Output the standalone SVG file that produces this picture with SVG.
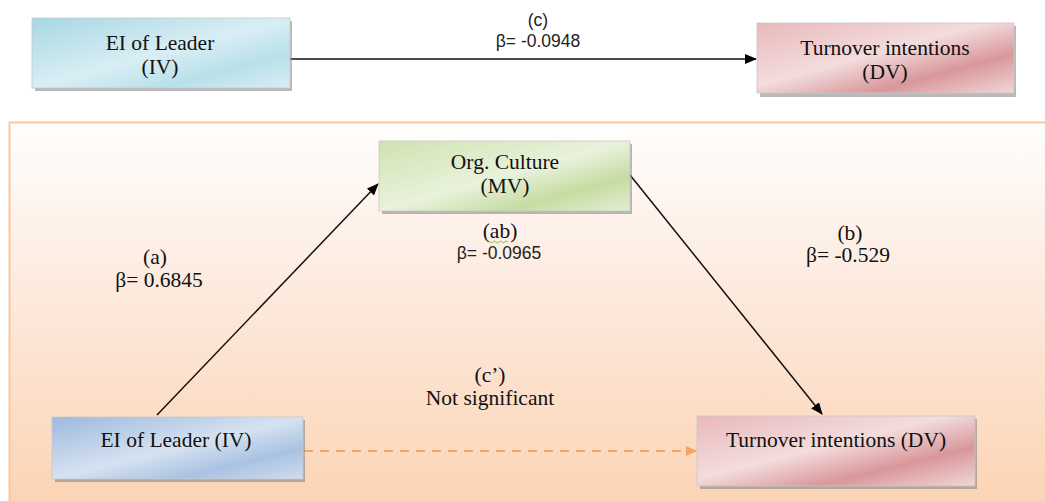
<svg xmlns="http://www.w3.org/2000/svg" width="1045" height="501" viewBox="0 0 1045 501">
<defs>
<linearGradient id="panel" x1="0" y1="0" x2="0" y2="1">
<stop offset="0" stop-color="#fffefd"/><stop offset="0.45" stop-color="#fde9dc"/><stop offset="1" stop-color="#fbd3b3"/>
</linearGradient>
<linearGradient id="gBlue" x1="0" y1="0" x2="1" y2="1">
<stop offset="0" stop-color="#a7d7e3"/><stop offset="0.5" stop-color="#d9eef4"/><stop offset="0.75" stop-color="#b9e0ea"/><stop offset="1" stop-color="#d8edf3"/>
</linearGradient>
<linearGradient id="gPink" x1="0" y1="0" x2="1" y2="1">
<stop offset="0" stop-color="#e9b9bb"/><stop offset="0.45" stop-color="#f3dcdd"/><stop offset="0.72" stop-color="#d9979a"/><stop offset="1" stop-color="#f1d7d8"/>
</linearGradient>
<linearGradient id="gGreen" x1="0" y1="0" x2="1" y2="1">
<stop offset="0" stop-color="#cfe3b0"/><stop offset="0.5" stop-color="#e9f2dc"/><stop offset="0.75" stop-color="#c6dca2"/><stop offset="1" stop-color="#e3eed3"/>
</linearGradient>
<linearGradient id="gSteel" x1="0" y1="0" x2="1" y2="1">
<stop offset="0" stop-color="#9db9dd"/><stop offset="0.5" stop-color="#d6e2f1"/><stop offset="0.75" stop-color="#a9c2e2"/><stop offset="1" stop-color="#d0ddef"/>
</linearGradient>
<marker id="ah" markerWidth="12" markerHeight="10" refX="11" refY="5" orient="auto" markerUnits="userSpaceOnUse" viewBox="0 0 12 10">
<path d="M0,0 L12,5 L0,10 z" fill="#000"/>
</marker>
<marker id="ahO" markerWidth="11" markerHeight="10" refX="10" refY="5" orient="auto" markerUnits="userSpaceOnUse" viewBox="0 0 11 10">
<path d="M0,0 L11,5 L0,10 z" fill="#f4a460"/>
</marker>
</defs>
<style>
.t{font-family:"Liberation Serif","Times New Roman",serif;font-size:21.5px;fill:#111;text-anchor:middle}
.s{font-family:"Liberation Sans",Arial,sans-serif;font-size:17.5px;fill:#222;text-anchor:middle}
.shadow{fill:#7f7f7f;opacity:0.55}
.box{stroke:#c8c8c8;stroke-width:0.8}
.edge{stroke:#111;stroke-width:1.5;fill:none}
</style>
<rect x="0" y="0" width="1045" height="501" fill="#fff"/>
<rect id="panel-bg" x="9.5" y="122.5" width="1040" height="390" fill="url(#panel)" stroke="#f7c7a0" stroke-width="2"/>

<g id="connectors">
<line class="edge" x1="290" y1="59" x2="756" y2="59" marker-end="url(#ah)"/>
<line class="edge" x1="157" y1="415" x2="378" y2="184" marker-end="url(#ah)"/>
<line class="edge" x1="630" y1="175" x2="822" y2="414" marker-end="url(#ah)"/>
<line x1="304" y1="451" x2="696" y2="451" stroke="#f4a460" stroke-width="2" stroke-dasharray="9,7" marker-end="url(#ahO)"/>
</g>

<g id="node-ei-top">
<rect class="shadow" x="35" y="21" width="257" height="70"/>
<rect class="box" x="32" y="18" width="258" height="70" fill="url(#gBlue)"/>
<text class="t" x="160" y="50">EI of Leader</text>
<text class="t" x="160" y="74">(IV)</text>
</g>
<g id="node-to-top">
<rect class="shadow" x="760" y="26" width="256" height="71"/>
<rect class="box" x="757" y="23" width="257" height="70" fill="url(#gPink)"/>
<text class="t" x="885" y="55">Turnover intentions</text>
<text class="t" x="885" y="79">(DV)</text>
</g>
<g id="node-org">
<rect class="shadow" x="382" y="144" width="250" height="70"/>
<rect class="box" x="379" y="141" width="251" height="70" fill="url(#gGreen)"/>
<text class="t" x="505" y="169">Org. Culture</text>
<text class="t" x="505" y="193">(MV)</text>
</g>
<g id="node-ei-bottom">
<rect class="shadow" x="55" y="420" width="250" height="62"/>
<rect class="box" x="52" y="417" width="251" height="62" fill="url(#gSteel)"/>
<text class="t" x="176" y="447">EI of Leader (IV)</text>
</g>
<g id="node-to-bottom">
<rect class="shadow" x="700" y="419" width="277" height="70"/>
<rect class="box" x="697" y="416" width="278" height="70" fill="url(#gPink)"/>
<text class="t" x="836" y="447">Turnover intentions (DV)</text>
</g>

<g id="labels">
<text class="s" x="538" y="26">(c)</text>
<text class="s" x="538" y="47">β= -0.0948</text>
<text class="t" x="155" y="264">(a)</text>
<text class="t" x="159" y="287">β= 0.6845</text>
<text class="t" x="500" y="238">(ab)</text>
<path d="M487,242 q1.5,-2 3,0 t3,0 t3,0 t3,0 t3,0 t3,0 t3,0" fill="none" stroke="#7fb36a" stroke-width="0.9"/>
<text class="s" x="499" y="259">β= -0.0965</text>
<text class="t" x="850" y="240">(b)</text>
<text class="t" x="848" y="262">β= -0.529</text>
<text class="t" x="490" y="382">(c’)</text>
<text class="t" x="490" y="405">Not significant</text>
</g>
</svg>
